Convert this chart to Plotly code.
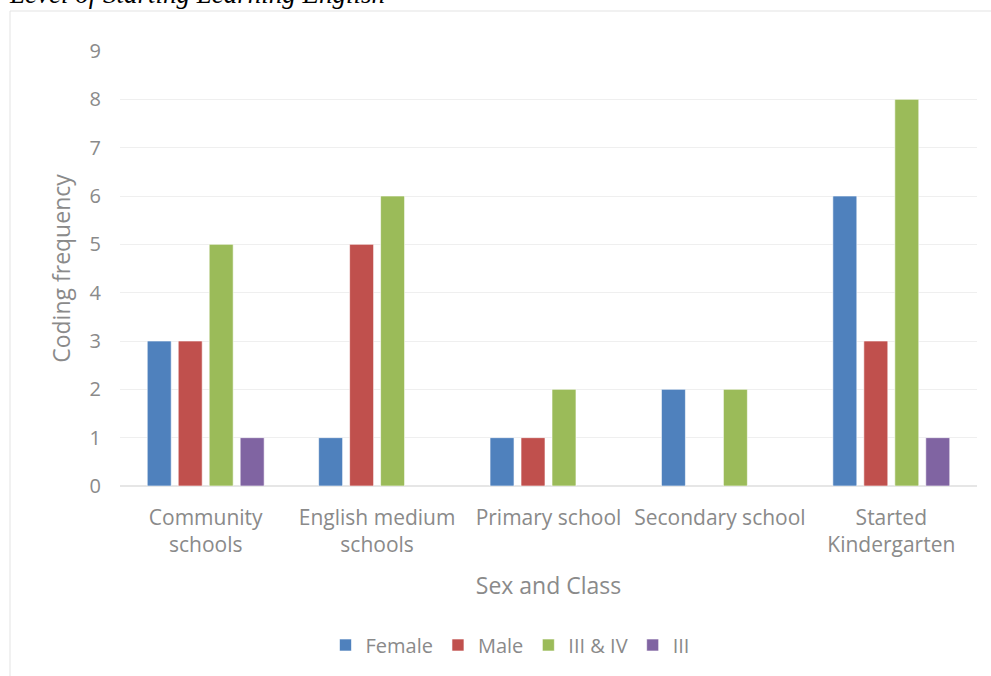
import plotly.graph_objects as go

categories = ["Community<br>schools", "English medium<br>schools", "Primary school",
              "Secondary school", "Started<br>Kindergarten"]
female = [3, 1, 1, 2, 6]
male = [3, 5, 1, None, 3]
iii_iv = [5, 6, 2, 2, 8]
iii = [1, None, None, None, 1]
y_ticks = list(range(0, 10))

W, H = 991, 676
colors = ["#4F81BD", "#C0504D", "#9BBB59", "#8064A2"]
names = ["Female", "Male", "III & IV", "III"]
series = [female, male, iii_iv, iii]

fig = go.Figure()
for nm, vals, c in zip(names, series, colors):
    fig.add_trace(go.Bar(x=categories, y=vals, name=nm,
                         marker=dict(color=c, line=dict(color="rgba(255,255,255,0.6)", width=1))))

font_fam = "Open Sans, Lato, sans-serif"
grey = "#8a8a8a"
fig.update_layout(
    width=W, height=H,
    margin=dict(l=0, r=0, t=0, b=0, autoexpand=False),
    paper_bgcolor="white", plot_bgcolor="white",
    barmode="group", bargap=0.277, bargroupgap=0.226,
    font=dict(family=font_fam, color=grey, size=20),
    showlegend=True,
    legend=dict(orientation="h", x=510 / W, xanchor="center", y=1 - 645 / H, yanchor="middle",
                font=dict(size=20, color=grey), itemwidth=30, traceorder="normal"),
    xaxis=dict(domain=[120 / W, 977 / W], showgrid=False, showline=False, ticks="",
               tickfont=dict(size=21, color=grey), ticklabelstandoff=17,
               title=dict(text="Sex and Class", font=dict(size=23, color=grey), standoff=20)),
    yaxis=dict(domain=[1 - 486 / H, 1 - 51 / H], range=[0, 9], tickvals=y_ticks,
               gridcolor="#efefef", gridwidth=1, zeroline=True, zerolinecolor="#e6e6e6",
               showline=False, ticks="", ticklabelstandoff=18,
               tickfont=dict(size=20, color=grey),
               title=dict(text="Coding frequency", font=dict(size=23, color=grey), standoff=12)),
    shapes=[
        dict(type="line", xref="paper", yref="paper", x0=10 / W, x1=10 / W, y0=0, y1=1 - 11 / H,
             line=dict(color="#e3e3e3", width=1)),
        dict(type="line", xref="paper", yref="paper", x0=10 / W, x1=1, y0=1 - 11 / H, y1=1 - 11 / H,
             line=dict(color="#e3e3e3", width=1)),
    ],
    annotations=[
        dict(text="<i>Level of Starting Learning English</i>", xref="paper", yref="paper",
             x=7 / W, xanchor="left", y=1 - 11 / H, yanchor="bottom", showarrow=False,
             font=dict(family="Liberation Serif, Times New Roman, serif", size=27, color="black")),
    ],
)

fig.write_html("out.html")
